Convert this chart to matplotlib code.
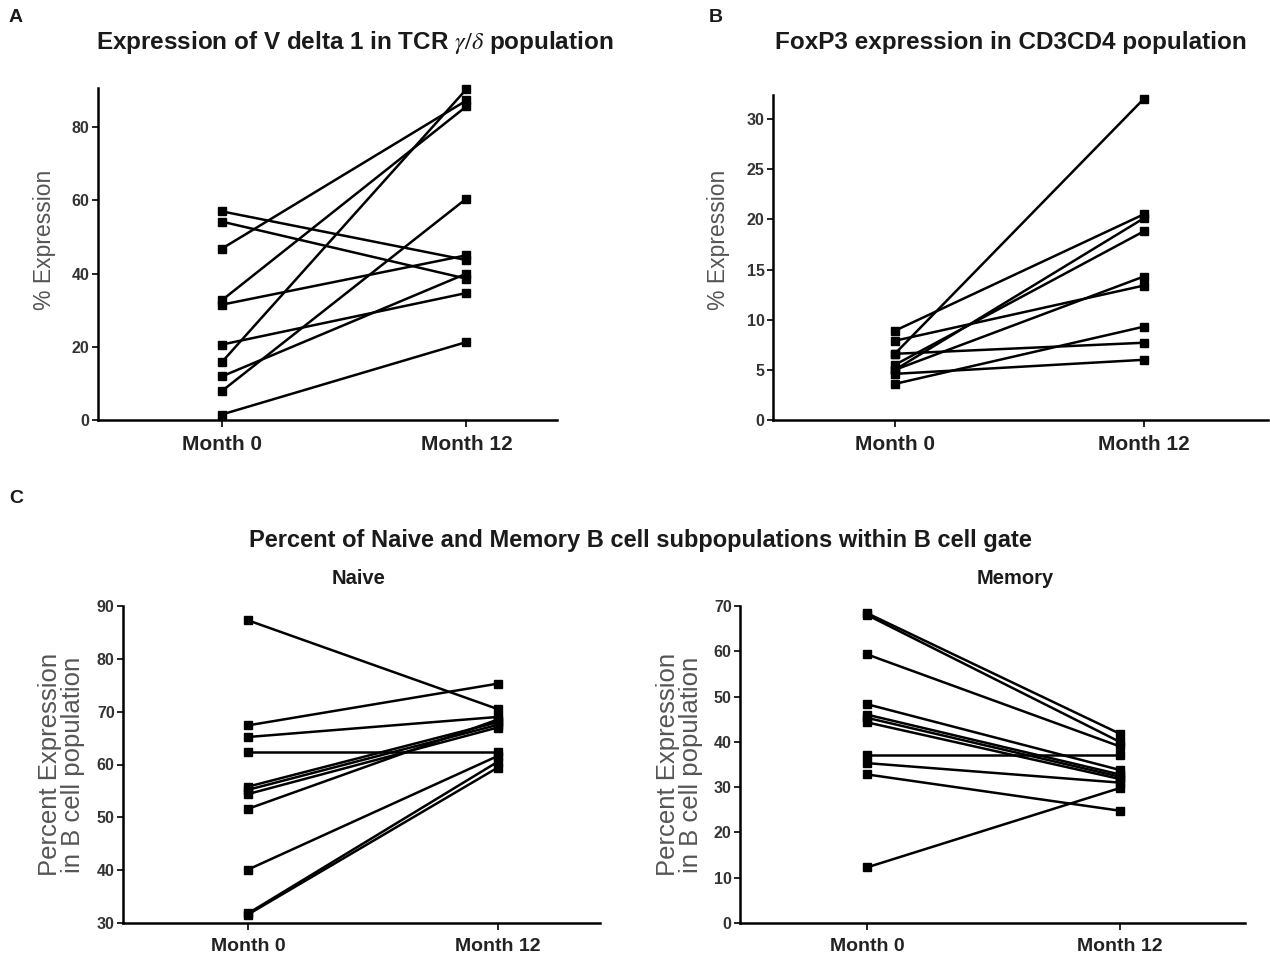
import matplotlib
matplotlib.use('Agg')
import matplotlib.pyplot as plt

plt.rcParams['font.family'] = ['Liberation Sans', 'DejaVu Sans']
plt.rcParams['mathtext.fontset'] = 'stix'

months = ['Month 0', 'Month 12']

# panel A: V delta 1 in TCR gamma/delta
vd1_m0 = [57.0, 54.2, 46.8, 32.7, 31.5, 20.6, 15.8, 11.9, 7.9, 1.5]
vd1_m12 = [43.7, 38.6, 87.3, 85.7, 45.0, 34.7, 90.4, 40.0, 60.5, 21.3]

# panel B: FoxP3 in CD3CD4
foxp3_m0 = [8.9, 7.9, 6.6, 6.6, 5.5, 5.0, 5.0, 4.6, 3.6]
foxp3_m12 = [20.5, 13.4, 32.0, 7.7, 18.8, 20.1, 14.3, 6.0, 9.3]

# panel C: naive / memory B cells
naive_m0 = [87.3, 67.4, 65.2, 62.4, 55.8, 55.2, 54.4, 51.6, 40.1, 31.8, 31.6]
naive_m12 = [70.5, 75.3, 69.0, 62.4, 68.0, 67.5, 67.0, 68.5, 61.6, 60.5, 59.4]
memory_m0 = [68.4, 68.0, 59.3, 48.3, 46.0, 45.3, 44.3, 37.0, 35.3, 32.8, 12.3]
memory_m12 = [41.8, 40.0, 39.0, 33.8, 32.8, 32.3, 31.8, 37.0, 31.0, 24.8, 29.8]

W, H = 1270, 959
fig = plt.figure(figsize=(W / 100, H / 100), dpi=100)


def box(x0, x1, ytop, ybot):
    return [x0 / W, 1 - ybot / H, (x1 - x0) / W, (ybot - ytop) / H]


def paired(rect, m0, m12, xlim, ylim, yticks, ylabel, ylabsize, ylabx, ylaby, xlabsize):
    ax = fig.add_axes(rect)
    for a, b in zip(m0, m12):
        ax.plot([0, 1], [a, b], color='black', lw=1.8, marker='s', markersize=5.5,
                solid_capstyle='butt', clip_on=False)
    ax.set_xlim(*xlim)
    ax.set_ylim(*ylim)
    ax.set_xticks([0, 1])
    ax.set_xticklabels(months, fontsize=xlabsize, fontweight='bold', color='#222222')
    ax.set_yticks(yticks)
    ax.set_yticklabels([str(t) for t in yticks], fontsize=11.5, fontweight='bold', color='#333333')
    for s in ['top', 'right']:
        ax.spines[s].set_visible(False)
    for s in ['left', 'bottom']:
        ax.spines[s].set_linewidth(1.8)
    ax.tick_params(axis='y', length=4, width=1.2, pad=2)
    ax.tick_params(axis='x', length=5, width=1.2, pad=6)
    ax.set_ylabel(ylabel, fontsize=ylabsize, color='#555555', linespacing=0.95)
    ax.yaxis.set_label_coords(ylabx, ylaby)
    return ax


paired(box(98, 557, 88, 420), vd1_m0, vd1_m12, (-0.506, 1.37), (0, 90.7),
       [0, 20, 40, 60, 80], '% Expression', 16.5, -0.091, 0.542, 15)
paired(box(773, 1268, 95, 420), foxp3_m0, foxp3_m12, (-0.49, 1.5), (0, 32.4),
       [0, 5, 10, 15, 20, 25, 30], '% Expression', 16.5, -0.086, 0.554, 15)
paired(box(123, 600, 606, 923), naive_m0, naive_m12, (-0.5, 1.41), (30, 90),
       [30, 40, 50, 60, 70, 80, 90], 'Percent Expression\nin B cell population', 18.5, -0.08, 0.5, 14)
paired(box(740, 1245, 606, 923), memory_m0, memory_m12, (-0.504, 1.496), (0, 70),
       [0, 10, 20, 30, 40, 50, 60, 70], 'Percent Expression\nin B cell population', 18.5, -0.074, 0.5, 14)

def ftext(x, y, s, **kw):
    fig.text(x / W, 1 - y / H, s, ha='center', va='center', color='#1a1a1a', **kw)

ftext(16, 18, 'A', fontsize=14, fontweight='bold')
ftext(716, 18, 'B', fontsize=14, fontweight='bold')
ftext(16, 498, 'C', fontsize=14, fontweight='bold')
ftext(355, 43, r'Expression of V delta 1 in TCR $\gamma/\delta$ population', fontsize=17.5, fontweight='bold')
ftext(1011, 43, 'FoxP3 expression in CD3CD4 population', fontsize=17.5, fontweight='bold')
ftext(640, 540, 'Percent of Naive and Memory B cell subpopulations within B cell gate',
      fontsize=17, fontweight='bold')
ftext(359, 578, 'Naive', fontsize=14.5, fontweight='bold')
ftext(1015, 578, 'Memory', fontsize=14.5, fontweight='bold')

fig.savefig('out.png', dpi=100)
